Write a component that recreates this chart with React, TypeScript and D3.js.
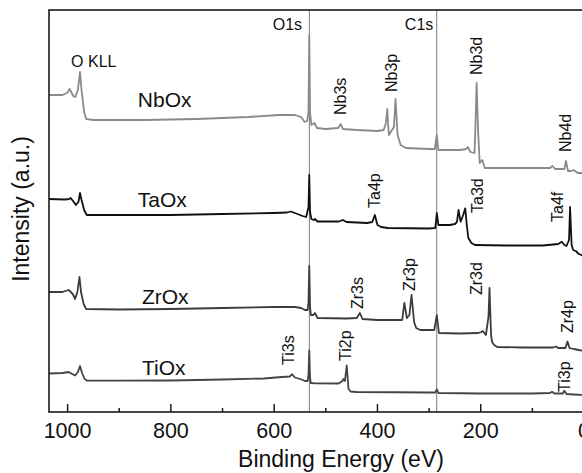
import React, { useEffect, useRef } from 'react';
import * as d3 from 'd3';

// survey spectra: [binding energy (eV), intensity (a.u.)]
const nbOx: [number, number][] = [
  [1036, 317], [1010, 317], [1001, 319], [996, 323], [989, 316], [985, 315], [980, 322], [976, 340],
  [973, 322], [968, 300], [964, 293], [950, 292], [850, 292], [750, 293], [650, 295], [590, 297],
  [560, 297], [548, 295], [541, 290], [536, 291], [533.5, 300], [532, 377], [530.5, 300], [528, 287],
  [522, 289], [517, 284], [500, 283], [476, 284], [471, 288], [467, 283], [440, 282], [400, 281],
  [388, 282], [384, 288], [381, 303], [378, 277], [368, 285], [365, 313], [361, 277], [355, 267],
  [345, 264], [300, 263], [289, 263], [285, 277], [282, 262], [240, 262], [228, 263], [225, 265],
  [220, 260], [212, 259], [210, 290], [208, 329], [205, 280], [202, 249], [197, 252], [192, 244],
  [150, 244], [100, 244], [66, 244], [61, 246], [56, 243], [38, 243], [35, 251], [31, 241],
  [25, 241], [20, 242], [12, 239], [0, 239],
];

const taOx: [number, number][] = [
  [1036, 213], [1005, 212.5], [997, 213], [994, 214], [988, 210], [984, 207], [979, 210], [976, 219],
  [973, 212], [968, 202], [963, 197], [900, 197], [800, 197], [700, 198], [600, 199], [575, 199.5],
  [568, 200.5], [560, 199], [545, 196], [538, 195], [533.5, 205], [532, 237], [530.5, 200], [528, 193],
  [523, 192], [521, 193], [516, 190.5], [475, 190.5], [467, 192], [460, 190], [420, 189], [410, 190],
  [405, 197], [400, 187], [393, 185], [380, 184], [300, 183.5], [288, 184], [285, 199], [282, 187],
  [260, 187], [250, 188], [246, 190], [243, 202], [239, 190.3], [234, 197], [230, 203.7], [227, 187],
  [224, 174], [218, 169], [211, 167], [150, 166.5], [80, 166.5], [50, 168], [43, 170.3], [38, 167],
  [34, 166], [29, 172], [27, 205], [24, 167], [21, 162], [16, 161], [10, 158], [0, 156],
];

const zrOx: [number, number][] = [
  [1036, 120], [1010, 120], [998, 122], [990, 118], [985.5, 113], [981, 120], [977, 135], [974, 120],
  [969, 108], [964, 103], [900, 102.5], [800, 103], [700, 104], [600, 105], [560, 105], [548, 104],
  [540, 102], [535, 102], [533.5, 110], [532, 146], [530.5, 105], [529, 97], [524, 97], [521, 99],
  [516, 94], [460, 93.5], [440, 94], [434, 99], [429, 93], [400, 92], [352, 92], [348, 109],
  [343, 94], [338, 97], [334, 117], [329, 90], [325, 84], [317, 82], [290, 82], [285, 97],
  [281, 79], [240, 78.5], [205, 79], [199, 80], [196, 81], [190, 77], [185, 95], [183, 124],
  [180, 77], [178, 70], [174, 67], [168, 65], [120, 64.5], [60, 64.5], [54, 65.5], [50, 64],
  [36, 64], [32, 70.5], [28, 64], [20, 63], [10, 62], [0, 61],
];

const tiOx: [number, number][] = [
  [1036, 38.5], [1010, 39], [998, 40], [991, 38], [985.5, 36.5], [980, 40], [976, 46], [972, 39],
  [967, 33], [962, 31.3], [900, 31.3], [800, 31.5], [700, 32.5], [620, 33.5], [585, 35], [570, 35.5],
  [565, 37.7], [560, 34.5], [550, 33], [540, 31], [535, 31], [533.5, 38], [532, 61.5], [530.5, 34],
  [529, 29], [520, 28.7], [475, 28.5], [468, 31], [466, 33], [463, 31], [459.5, 46.5], [456, 23],
  [452, 20.5], [440, 20], [300, 19.5], [288, 19.5], [285, 22.7], [282, 19], [200, 18.5], [100, 18.5],
  [66, 19], [62, 20.3], [57, 18.5], [41, 18.5], [38, 21.3], [34, 18], [20, 17.5], [0, 17],
];

const seriesNames = ['NbOx', 'TaOx', 'ZrOx', 'TiOx'];
const seriesData = [nbOx, taOx, zrOx, tiOx];
const seriesColors = ['#8a8a8a', '#111111', '#3c3c3c', '#444444'];
// where each sample name sits: [eV, a.u.]
const seriesLabelAt: [number, number][] = [[864, 305], [864, 205], [856, 108.5], [856, 37]];

// vertical reference lines
const refLines = [
  { text: 'O1s', be: 531.8, labelBe: 546 },
  { text: 'C1s', be: 285.2, labelBe: 291.8 },
];

// rotated peak labels: anchor at the start of the text [eV, a.u.]
const peakLabels = [
  { text: 'Nb3s', be: 472.4, i: 297 },
  { text: 'Nb3p', be: 373.7, i: 320 },
  { text: 'Nb3d', be: 209, i: 337 },
  { text: 'Nb4d', be: 36.8, i: 260 },
  { text: 'Ta4p', be: 406.6, i: 204 },
  { text: 'Ta3d', be: 206.2, i: 199 },
  { text: 'Ta4f', be: 51.3, i: 190 },
  { text: 'Zr3s', be: 438.5, i: 103 },
  { text: 'Zr3p', be: 338.8, i: 121 },
  { text: 'Zr3d', be: 209, i: 117 },
  { text: 'Zr4p', be: 32.9, i: 79 },
  { text: 'Ti3s', be: 573, i: 47 },
  { text: 'Ti2p', be: 462.7, i: 51 },
  { text: 'Ti3p', be: 38.7, i: 20 },
];

const majorTicks = [1000, 800, 600, 400, 200, 0];
const minorTicks = [900, 700, 500, 300, 100];

const App = () => {
  const chartRef = useRef<SVGSVGElement>(null);

  useEffect(() => {
    const width = 582;
    const height = 473;
    const left = 49;
    const top = 10;
    const bottom = 412;
    const font = '"Liberation Sans", Arial, Helvetica, sans-serif';

    const x = d3.scaleLinear().domain([1036, -36]).range([left, 602.6]);
    const y = d3.scaleLinear().domain([0, 402]).range([bottom, top]);

    const svg = d3.select(chartRef.current)
      .attr('width', width)
      .attr('height', height)
      .style('font-family', font);

    svg.append('rect').attr('width', width).attr('height', height).attr('fill', '#fff');

    svg.append('defs').append('clipPath').attr('id', 'plot-clip')
      .append('rect')
      .attr('x', left).attr('y', top)
      .attr('width', x(-36) - left).attr('height', bottom - top);

    // reference lines
    refLines.forEach(r => {
      svg.append('line')
        .attr('x1', x(r.be)).attr('x2', x(r.be))
        .attr('y1', top).attr('y2', bottom)
        .attr('stroke', '#7a7a7a')
        .attr('stroke-width', 1);
      svg.append('text')
        .attr('x', x(r.labelBe)).attr('y', y(382))
        .attr('text-anchor', 'end')
        .attr('font-size', 16)
        .attr('fill', '#111')
        .text(r.text);
    });

    // spectra
    const line = d3.line<[number, number]>()
      .x(d => x(d[0]))
      .y(d => y(d[1]));

    const g = svg.append('g').attr('clip-path', 'url(#plot-clip)');
    seriesData.forEach((data, k) => {
      g.append('path')
        .datum(data)
        .attr('d', line)
        .attr('fill', 'none')
        .attr('stroke', seriesColors[k])
        .attr('stroke-width', 1.8)
        .attr('stroke-linejoin', 'round');
    });

    seriesNames.forEach((name, k) => {
      svg.append('text')
        .attr('x', x(seriesLabelAt[k][0]))
        .attr('y', y(seriesLabelAt[k][1]))
        .attr('font-size', 21)
        .attr('fill', '#111')
        .text(name);
    });

    svg.append('text')
      .attr('x', x(993.2)).attr('y', y(345))
      .attr('font-size', 16)
      .attr('fill', '#111')
      .text('O KLL');

    peakLabels.forEach(p => {
      svg.append('text')
        .attr('transform', `translate(${x(p.be)},${y(p.i)}) rotate(-90)`)
        .attr('dy', '0.36em')
        .attr('font-size', 16)
        .attr('fill', '#111')
        .text(p.text);
    });

    // frame
    svg.append('rect')
      .attr('x', left).attr('y', top)
      .attr('width', x(-36) - left).attr('height', bottom - top)
      .attr('fill', 'none')
      .attr('stroke', '#1a1a1a')
      .attr('stroke-width', 1.6);

    // ticks point inward
    majorTicks.forEach(t => {
      svg.append('line')
        .attr('x1', x(t)).attr('x2', x(t))
        .attr('y1', bottom).attr('y2', bottom - 8)
        .attr('stroke', '#1a1a1a').attr('stroke-width', 1.5);
      svg.append('text')
        .attr('x', x(t)).attr('y', 438)
        .attr('text-anchor', 'middle')
        .attr('font-size', 21.5)
        .attr('fill', '#111')
        .text(t);
    });
    minorTicks.forEach(t => {
      svg.append('line')
        .attr('x1', x(t)).attr('x2', x(t))
        .attr('y1', bottom).attr('y2', bottom - 4)
        .attr('stroke', '#1a1a1a').attr('stroke-width', 1.5);
    });

    svg.append('text')
      .attr('x', 341).attr('y', 466.5)
      .attr('text-anchor', 'middle')
      .attr('font-size', 23)
      .attr('fill', '#111')
      .text('Binding Energy (eV)');

    svg.append('text')
      .attr('transform', `translate(28.5,209) rotate(-90)`)
      .attr('text-anchor', 'middle')
      .attr('font-size', 23)
      .attr('fill', '#111')
      .text('Intensity (a.u.)');

    return () => {
      d3.select(chartRef.current).selectAll('*').remove();
    };
  }, []);

  return (
    <svg ref={chartRef} style={{ position: 'absolute', left: 0, top: 0, display: 'block' }} />
  );
};

export default App;
